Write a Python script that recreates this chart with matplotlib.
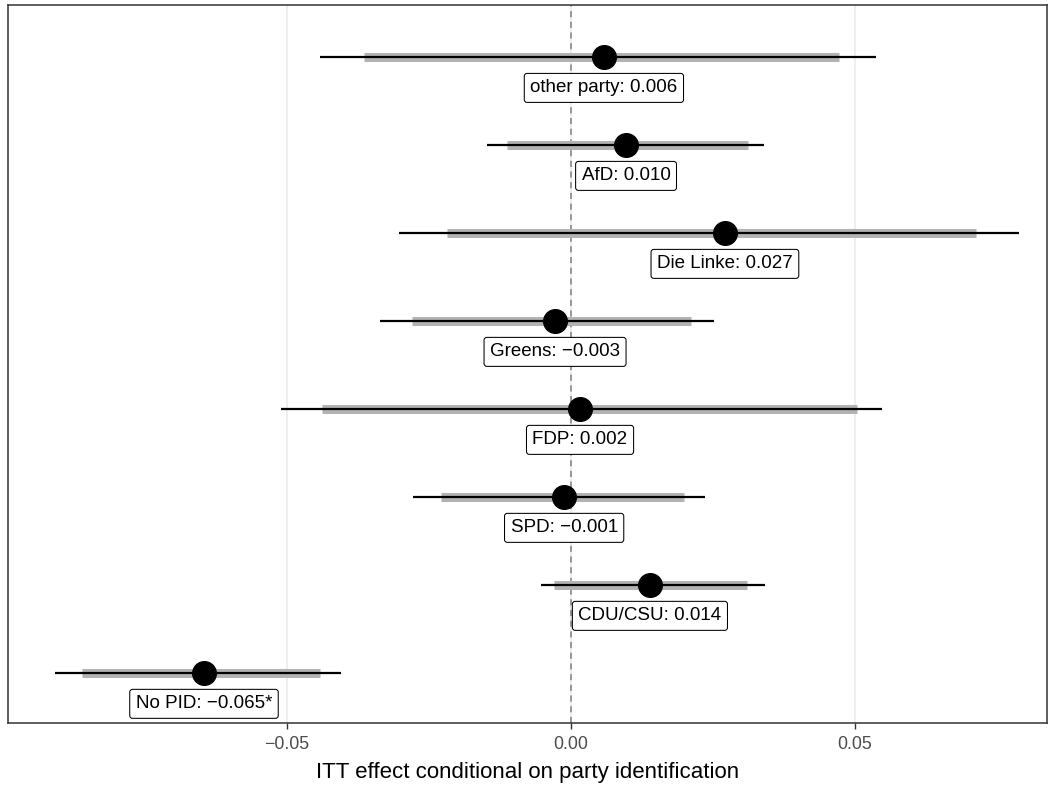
import matplotlib
matplotlib.use("Agg")
import matplotlib.pyplot as plt

plt.rcParams["font.family"] = ["Liberation Sans", "DejaVu Sans"]

groups = ["No PID", "CDU/CSU", "SPD", "FDP", "Greens", "Die Linke", "AfD", "other party"]
estimates = [-0.0646, 0.0139, -0.0012, 0.0016, -0.0028, 0.0271, 0.0097, 0.0058]
ci90_lo = [-0.0861, -0.0030, -0.0229, -0.0438, -0.0280, -0.0218, -0.0113, -0.0364]
ci90_hi = [-0.0442, 0.0310, 0.0199, 0.0504, 0.0211, 0.0713, 0.0312, 0.0472]
ci95_lo = [-0.0908, -0.0053, -0.0278, -0.0511, -0.0336, -0.0303, -0.0148, -0.0442]
ci95_hi = [-0.0405, 0.0342, 0.0236, 0.0548, 0.0252, 0.0789, 0.0340, 0.0537]
labels = ["No PID: \u22120.065*", "CDU/CSU: 0.014", "SPD: \u22120.001", "FDP: 0.002",
          "Greens: \u22120.003", "Die Linke: 0.027", "AfD: 0.010", "other party: 0.006"]
xticks = [-0.05, 0.0, 0.05]
xticklabels = ["\u22120.05", "0.00", "0.05"]

fig = plt.figure(figsize=(10.55, 7.85), dpi=100)
ax = fig.add_axes([8/1055, 1-723/785, (1047-8)/1055, (723-5)/785])

ypos = list(range(1, len(groups) + 1))

for x in xticks:
    ax.axvline(x, color="#ebebeb", lw=1.2, zorder=0)
ax.axvline(0, color="#808080", lw=1.1, ls=(0, (4, 3)), zorder=1)

ax.hlines(ypos, ci90_lo, ci90_hi, color="#b3b3b3", lw=6.5, zorder=3)
ax.hlines(ypos, ci95_lo, ci95_hi, color="black", lw=1.6, zorder=3.5)
ax.plot(estimates, ypos, "o", color="black", ms=17, zorder=4)

for x, y, t in zip(estimates, ypos, labels):
    ax.annotate(t, (x, y), xytext=(0, -31), textcoords="offset pixels",
                ha="center", va="center", fontsize=13.5, color="black", zorder=5,
                bbox=dict(boxstyle="round,pad=0.32,rounding_size=0.15", fc="white",
                          ec="black", lw=0.75))

ax.set_xlim(-0.0991, 0.0838)
ax.set_ylim(0.43, 8.59)
ax.set_yticks([])
ax.set_xticks(xticks)
ax.set_xticklabels(xticklabels, fontsize=12.8, color="#4d4d4d")
ax.tick_params(axis="x", length=4, width=1, color="#333333", pad=5.5)
for s in ax.spines.values():
    s.set_color("#333333")
    s.set_linewidth(1.1)
ax.set_xlabel("ITT effect conditional on party identification", fontsize=16, labelpad=6)

fig.savefig("out.png", dpi=100)
